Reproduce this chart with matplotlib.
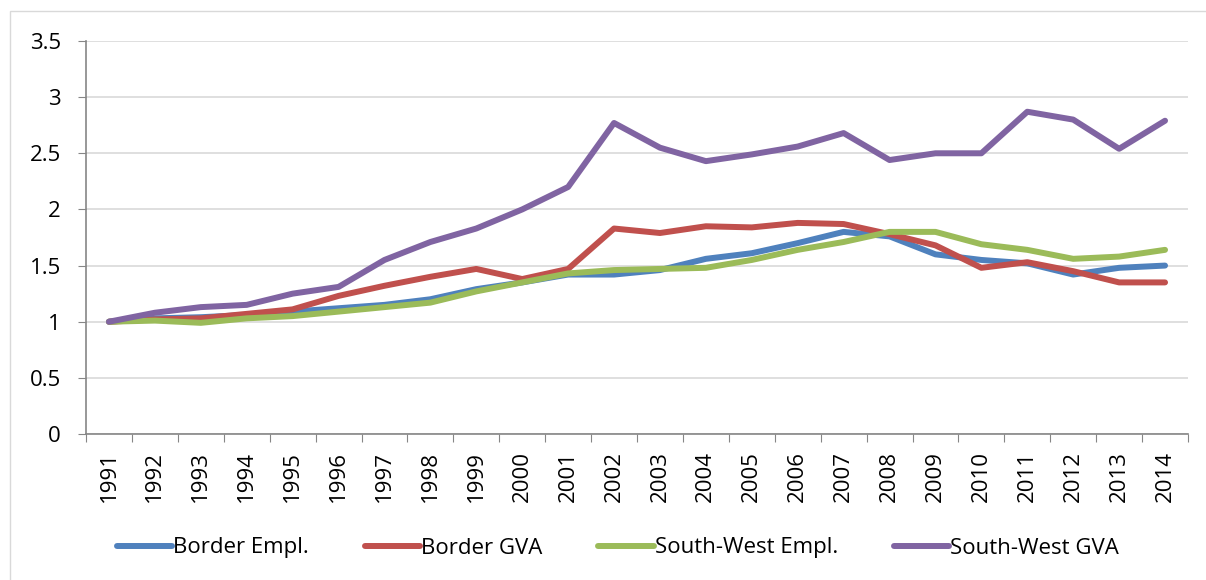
import numpy as np
import matplotlib.pyplot as plt
from matplotlib.patches import Rectangle

plt.rcParams['font.family'] = ['Open Sans', 'DejaVu Sans']

years = [str(y) for y in range(1991, 2015)]

border_empl = [1.0, 1.03, 1.04, 1.06, 1.09, 1.12, 1.15, 1.20, 1.29, 1.35, 1.42, 1.42,
               1.46, 1.56, 1.61, 1.70, 1.80, 1.76, 1.60, 1.55, 1.52, 1.42, 1.48, 1.50]
border_gva = [1.0, 1.02, 1.03, 1.07, 1.11, 1.23, 1.32, 1.40, 1.47, 1.38, 1.47, 1.83,
              1.79, 1.85, 1.84, 1.88, 1.87, 1.78, 1.68, 1.48, 1.53, 1.45, 1.35, 1.35]
sw_empl = [1.0, 1.01, 0.99, 1.03, 1.05, 1.09, 1.13, 1.17, 1.27, 1.35, 1.43, 1.46,
           1.47, 1.48, 1.55, 1.64, 1.71, 1.80, 1.80, 1.69, 1.64, 1.56, 1.58, 1.64]
sw_gva = [1.0, 1.08, 1.13, 1.15, 1.25, 1.31, 1.55, 1.71, 1.83, 2.0, 2.2, 2.77,
          2.55, 2.43, 2.49, 2.56, 2.68, 2.44, 2.50, 2.50, 2.87, 2.80, 2.54, 2.79]

fig = plt.figure(figsize=(12.06, 5.8), dpi=100)
ax = fig.add_axes([86 / 1206, 1 - 434 / 580, (1188 - 86) / 1206, (434 - 41) / 580])

# chart area border
fig.patches.append(Rectangle((10 / 1206, -0.1), 1.2, 1 - 11 / 580 + 0.1,
                             transform=fig.transFigure, fill=False,
                             edgecolor='#d9d9d9', linewidth=1))

x = np.arange(len(years))
lw = 4.3
ax.plot(x, border_empl, color='#4f81bd', lw=lw, label='Border Empl.', solid_capstyle='round')
ax.plot(x, border_gva, color='#c0504d', lw=lw, label='Border GVA', solid_capstyle='round')
ax.plot(x, sw_empl, color='#9bbb59', lw=lw, label='South-West Empl.', solid_capstyle='round')
ax.plot(x, sw_gva, color='#8064a2', lw=lw, label='South-West GVA', solid_capstyle='round')

ax.set_ylim(0, 3.5)
ax.set_xlim(-0.5, len(years) - 0.5)
ax.set_yticks(np.arange(0, 3.51, 0.5))
ax.set_yticklabels(['0', '0.5', '1', '1.5', '2', '2.5', '3', '3.5'])
ax.yaxis.grid(True, color='#d9d9d9', lw=1.2)
ax.set_axisbelow(True)

ax.set_xticks(np.arange(-0.5, len(years), 1.0))
ax.set_xticklabels([])
ax.set_xticks(x, minor=True)
ax.set_xticklabels(years, minor=True, rotation=90)
ax.tick_params(axis='x', which='minor', length=0, labelsize=16, pad=12)
ax.tick_params(axis='x', which='major', length=6, color='#868686')
ax.tick_params(axis='y', length=6, color='#868686', labelsize=16, pad=12)

for s in ['top', 'right']:
    ax.spines[s].set_visible(False)
for s in ['left', 'bottom']:
    ax.spines[s].set_color('#868686')
    ax.spines[s].set_linewidth(1.2)

fig.legend(loc='center', bbox_to_anchor=(618 / 1206, 1 - 548 / 580), ncol=4,
           frameon=False, fontsize=16, handlelength=2.5, handletextpad=0.05,
           columnspacing=2.5)

fig.savefig('out.png', dpi=100)
